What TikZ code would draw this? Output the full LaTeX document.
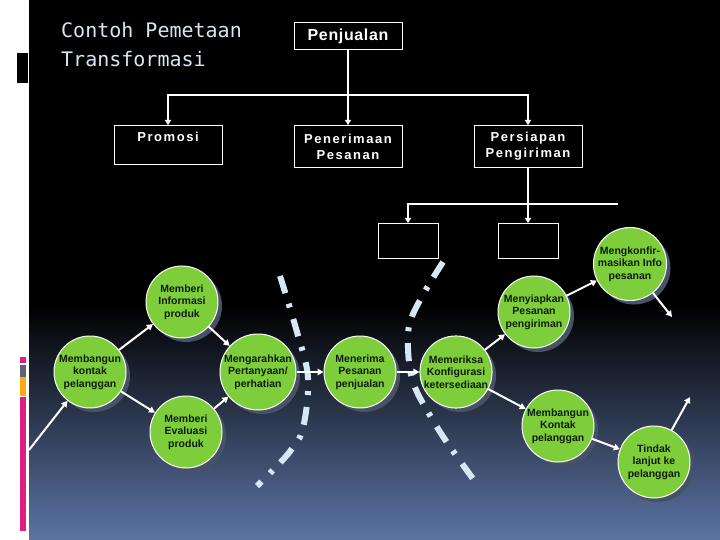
\documentclass[tikz,border=0pt]{standalone}
\usepackage{fontspec}
\setmainfont{Liberation Sans}
\newfontfamily\titlefont{DejaVu Sans Mono}
\usetikzlibrary{arrows.meta,shadows}
\definecolor{bgbot}{RGB}{92,116,164}
\definecolor{bgmid}{RGB}{24,31,50}
\definecolor{leafgreen}{RGB}{126,206,60}
\definecolor{shadowcol}{RGB}{72,82,102}
\definecolor{dashcol}{RGB}{214,232,246}
\definecolor{titlecol}{RGB}{214,232,242}
\definecolor{barpink}{RGB}{222,30,130}
\definecolor{bargray}{RGB}{90,100,110}
\definecolor{barorange}{RGB}{250,170,20}
\definecolor{circtext}{RGB}{14,28,10}
\tikzset{
  boxnode/.style={draw=white, line width=1pt, fill=black, text=white, inner sep=0pt,
    align=center, font=\bfseries\fontsize{13}{16}\selectfont\addfontfeature{LetterSpace=12}},
  bubble/.style={circle, draw=white, line width=1pt, fill=leafgreen, minimum size=72pt,
    inner sep=0pt, align=center, text=circtext, font=\bfseries\fontsize{10.5}{12.5}\selectfont,
    drop shadow={shadow xshift=4pt, shadow yshift=-4pt, fill=shadowcol, opacity=1}},
  treeline/.style={draw=white, line width=1.4pt},
  treearr/.style={treeline, -{Triangle[width=6pt,length=5pt]}},
  flowarr/.style={draw=white, line width=2pt, -{Triangle[width=6.5pt,length=6pt]}},
  divider/.style={draw=dashcol, line width=6pt, dash pattern=on 18pt off 11pt on 4pt off 12pt}
}
\begin{document}
\begin{tikzpicture}[x=1pt,y=-1pt]
\useasboundingbox (0,0) rectangle (720,540);
% background
\fill[white] (0,0) rectangle (29,540);
\fill[black] (29,0) rectangle (720,305);
\shade[top color=black, middle color=bgmid, bottom color=bgbot] (29,305) rectangle (720,540);
\fill[black] (17,53) rectangle (28,83);
\fill[barpink] (20,357) rectangle (26,363);
\fill[bargray] (20,365) rectangle (26,377);
\fill[barorange] (20,377) rectangle (26,396);
\fill[barpink] (20,397) rectangle (26,531);
% title
\node (title) [anchor=north west, align=left, text=titlecol, inner sep=0pt,
  font=\titlefont\fontsize{20}{29}\selectfont] at (61,22) {Contoh Pemetaan\\Transformasi};
% tree
\node (penjualan) [boxnode, minimum width=108pt, minimum height=27pt,
  font=\bfseries\fontsize{16}{18}\selectfont\addfontfeature{LetterSpace=4}] at (348,36.5) {Penjualan};
\node (promosi) [boxnode, minimum width=108pt, minimum height=39pt, anchor=north] at (168,125) {Promosi\\\mbox{}};
\node (penerimaan) [boxnode, minimum width=108pt, minimum height=42pt, anchor=north] at (348,125) {Penerimaan\\Pesanan};
\node (persiapan) [boxnode, minimum width=108pt, minimum height=42pt, anchor=north] at (528,125) {Persiapan\\Pengiriman};
\coordinate (j1) at (348,95);
\draw[treeline] (penjualan.south) -- (j1);
\draw[treearr] (j1) -- (penerimaan.north);
\draw[treearr] (j1) -| (promosi.north);
\draw[treearr] (j1) -| (persiapan.north);
\node (empty1) [boxnode, minimum width=60pt, minimum height=35pt, anchor=north] at (408,223) {};
\node (empty2) [boxnode, minimum width=60pt, minimum height=35pt, anchor=north] at (528,223) {};
\coordinate (j2) at (528,204);
\coordinate (j3) at (618,204);
\draw[treeline] (persiapan.south) -- (j2);
\draw[treearr] (j2) -- (empty2.north);
\draw[treearr] (j2) -| (empty1.north);
\draw[treeline] (j2) -- (j3);
% dividers
\draw[divider] plot[smooth, tension=0.6] coordinates {(280,276) (297,332) (308,378) (303,428) (291,450) (275,468) (257,486)};
\draw[divider] plot[smooth, tension=0.6] coordinates {(443,262) (424,293) (410,322) (408,348) (411,375) (417,392) (428,412) (446,441) (479,487)};
% bubbles
\node (info) [bubble] at (182,302) {Memberi\\Informasi\\produk};
\node (kontak) [bubble] at (90,372) {Membangun\\kontak\\pelanggan};
\node (arah) [bubble] at (258,372) {Mengarahkan\\Pertanyaan/\\perhatian};
\node (evaluasi) [bubble] at (186,432) {Memberi\\Evaluasi\\produk};
\node (terima) [bubble] at (360,372) {Menerima\\Pesanan\\penjualan};
\node (periksa) [bubble] at (456,372) {Memeriksa\\Konfigurasi\\ketersediaan};
\node (siapkan) [bubble] at (534,312) {Menyiapkan\\Pesanan\\pengiriman};
\node (konfirm) [bubble] at (630,264) {Mengkonfir-\\masikan Info\\pesanan};
\node (kontak2) [bubble] at (558,426) {Membangun\\Kontak\\pelanggan};
\node (tindak) [bubble] at (654,462) {Tindak\\lanjut ke\\pelanggan};
\coordinate (inleft) at (29,450);
\coordinate (outkonfirm) at (672,317);
\coordinate (outtindak) at (690,397);
% flow arrows
\draw[flowarr] (inleft) -- (kontak);
\draw[flowarr] (kontak) -- (info);
\draw[flowarr] (kontak) -- (evaluasi);
\draw[flowarr] (info) -- (arah);
\draw[flowarr] (evaluasi) -- (arah);
\draw[flowarr] (arah) -- (terima);
\draw[flowarr] (terima) -- (periksa);
\draw[flowarr] (periksa) -- (siapkan);
\draw[flowarr] (siapkan) -- (konfirm);
\draw[flowarr] (konfirm) -- (outkonfirm);
\draw[flowarr] (periksa) -- (kontak2);
\draw[flowarr] (kontak2) -- (tindak);
\draw[flowarr] (tindak) -- (outtindak);
\end{tikzpicture}
\end{document}
